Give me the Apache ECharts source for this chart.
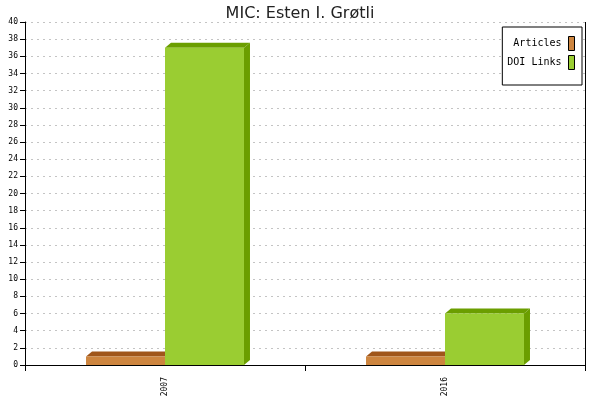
<!DOCTYPE html>
<html><head><meta charset="utf-8">
<script src="https://cdn.jsdelivr.net/npm/echarts@6/dist/echarts.min.js"></script>
<style>html,body{margin:0;padding:0;background:#fff}#c{width:600px;height:400px}</style>
</head><body><div id="c"></div>
<script>
var categories = ['2007', '2016'];
var articles = [1, 1];
var doiLinks = [37, 6];
var yTicks = {min: 0, max: 40, interval: 2};

var chart = echarts.init(document.getElementById('c'), null, {renderer: 'canvas'});
var DEPTH_X = 6, DEPTH_Y = 5;
function make3d(offsetSign, front, top, side) {
  return function (params, api) {
    var idx = api.value(0);
    var val = api.value(1);
    var base = api.coord([idx, 0]);
    var tip = api.coord([idx, val]);
    var band = api.size([1, 0])[0];
    var w = band * 0.2821;
    var x0 = offsetSign < 0 ? base[0] - w : base[0];
    var x1 = x0 + w;
    var y0 = tip[1], y1 = base[1];
    return {
      type: 'group',
      children: [
        {type: 'polygon', shape: {points: [[x0, y0], [x0 + DEPTH_X, y0 - DEPTH_Y], [x1 + DEPTH_X, y0 - DEPTH_Y], [x1, y0]]}, style: {fill: top}},
        {type: 'polygon', shape: {points: [[x1, y0], [x1 + DEPTH_X, y0 - DEPTH_Y], [x1 + DEPTH_X, y1 - DEPTH_Y], [x1, y1]]}, style: {fill: side}},
        {type: 'rect', shape: {x: x0, y: y0, width: w, height: y1 - y0}, style: {fill: front}}
      ]
    };
  };
}
var font = 'DejaVu Sans Mono';
chart.setOption({
  animation: false,
  backgroundColor: '#fff',
  title: {text: 'MIC: Esten I. Grøtli', left: 'center', top: 1,
    textStyle: {fontFamily: 'DejaVu Sans', fontWeight: 'normal', fontSize: 16, color: '#222'}},
  grid: {left: 25, right: 15, top: 22, bottom: 35, containLabel: false},
  legend: {
    orient: 'vertical', right: 18, top: 27, align: 'right',
    backgroundColor: '#fff', borderColor: '#000', borderWidth: 1,
    padding: [9, 7, 15, 5], itemGap: 4, itemWidth: 6, itemHeight: 14,
    icon: 'rect',
    textStyle: {fontFamily: font, fontSize: 10, color: '#000', padding: [0, 2, 0, 0]},
    data: [
      {name: 'Articles', itemStyle: {color: '#CD853F', borderColor: '#000', borderWidth: 1}},
      {name: 'DOI Links', itemStyle: {color: '#9ACD32', borderColor: '#000', borderWidth: 1}}
    ]
  },
  xAxis: {
    type: 'category', data: categories,
    axisLine: {lineStyle: {color: '#000', width: 1}},
    axisTick: {show: true, length: 6, lineStyle: {color: '#000'}},
    axisLabel: {rotate: 90, fontFamily: font, fontSize: 8, color: '#000', margin: 12}
  },
  yAxis: {
    type: 'value', min: yTicks.min, max: yTicks.max, interval: yTicks.interval,
    axisLine: {show: true, lineStyle: {color: '#000', width: 1}},
    axisTick: {show: true, length: 5, lineStyle: {color: '#000'}},
    axisLabel: {fontFamily: font, fontSize: 8, color: '#000', margin: 7},
    splitLine: {lineStyle: {color: '#c4c4c4', type: [2, 4], width: 1}}
  },
  graphic: [{type: 'line', shape: {x1: 585.5, y1: 22, x2: 585.5, y2: 371}, style: {stroke: '#000', lineWidth: 1}, z: 10}],
  series: [
    {name: 'Articles', type: 'custom', itemStyle: {color: '#CD853F'},
      renderItem: make3d(-1, '#CD853F', '#A0561A', '#A0561A'),
      encode: {x: 0, y: 1},
      data: articles.map(function (v, i) { return [i, v]; })},
    {name: 'DOI Links', type: 'custom', itemStyle: {color: '#9ACD32'},
      renderItem: make3d(1, '#9ACD32', '#6B9E00', '#6B9E00'),
      encode: {x: 0, y: 1},
      data: doiLinks.map(function (v, i) { return [i, v]; })}
  ]
});
</script></body></html>
